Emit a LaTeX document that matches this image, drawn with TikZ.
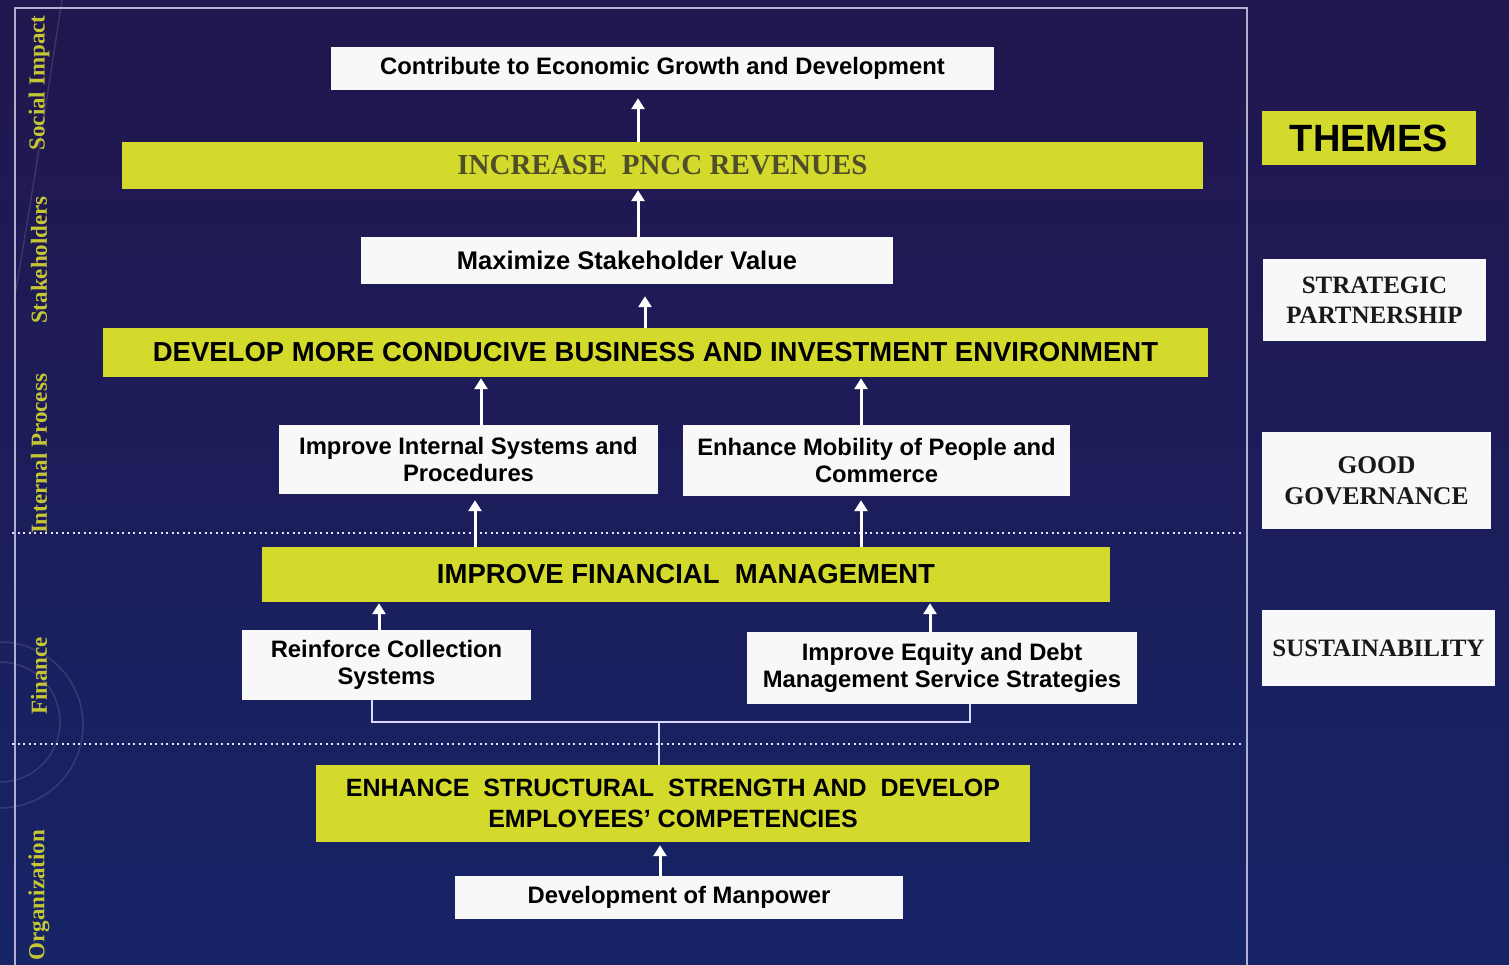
\documentclass[tikz,border=0pt]{standalone}
\usepackage{fontspec}
\setmainfont{Liberation Serif}
\setsansfont{Liberation Sans}
\usetikzlibrary{arrows.meta,calc}
\definecolor{baryellow}{RGB}{212,218,44}
\definecolor{labyellow}{RGB}{196,198,52}
\definecolor{bgtop}{RGB}{34,22,78}
\definecolor{bgbot}{RGB}{22,36,102}
\definecolor{framecol}{RGB}{178,176,210}
\definecolor{olivetext}{RGB}{78,78,40}
\definecolor{boxwhite}{RGB}{248,248,248}
\tikzset{
  whitebox/.style={fill=boxwhite, inner sep=0pt, align=center, text=black,
    font=\sffamily\bfseries\fontsize{23.8}{27}\selectfont},
  ybar/.style={fill=baryellow, inner sep=0pt, align=center, text=black,
    font=\sffamily\bfseries\fontsize{27.5}{31}\selectfont},
  themebox/.style={fill=boxwhite, inner sep=0pt, align=center, text=black!90,
    font=\rmfamily\bfseries\fontsize{25}{31}\selectfont},
  sidelab/.style={rotate=90, text=labyellow, inner sep=0pt,
    font=\rmfamily\bfseries\fontsize{23}{24}\selectfont},
  upar/.style={draw=white, line width=3pt, -{Triangle[width=13pt,length=11pt]}},
  framel/.style={draw=framecol, line width=1.4pt},
  dotl/.style={draw=white!90!blue, line width=2pt, dash pattern=on 2pt off 3.5pt},
  brk/.style={draw=white!85!blue, line width=2.2pt},
  deco/.style={draw=white, opacity=0.12, line width=1.5pt}
}
\begin{document}
\begin{tikzpicture}[x=1pt,y=-1pt]
\useasboundingbox (0,0) rectangle (1509,965);
\shade[top color=bgtop, bottom color=bgbot] (0,0) rectangle (1509,965);
% faint decorative arcs
\draw[deco] (62,0) .. controls (45,110) and (30,210) .. (14,300);
\draw[deco] (0,642) arc[start angle=-90, end angle=90, radius=83];
\draw[deco] (0,662) arc[start angle=-90, end angle=90, radius=60];
% frame
\draw[framel] (15,965) -- (15,8) -- (1247,8) -- (1247,965);
% section dividers
\draw[dotl] (12,533) -- (1243,533);
\draw[dotl] (12,744) -- (1243,744);
% left perspective labels
\node[sidelab] (lsoc) at (39,83) {Social Impact};
\node[sidelab] (lsta) at (39,260) {Stakeholders};
\node[sidelab] (lint) at (39,454) {Internal Process};
\node[sidelab] (lfin) at (39,676) {Finance};
\node[sidelab] (lorg) at (39,895) {Organization};
% main boxes
\node[whitebox, minimum width=663, minimum height=43] (econ) at (662.5,68.5) {Contribute to Economic Growth and Development};
\node[ybar, minimum width=1081, minimum height=47, text=olivetext,
      font=\rmfamily\bfseries\fontsize{29}{30}\selectfont] (rev) at (662.5,165.5) {INCREASE\ \ PNCC REVENUES};
\node[whitebox, minimum width=532, minimum height=47, font=\sffamily\bfseries\fontsize{25.5}{27}\selectfont] (stake) at (627,260.5) {Maximize Stakeholder Value};
\node[ybar, minimum width=1105, minimum height=49] (env) at (655.5,352.5) {DEVELOP MORE CONDUCIVE BUSINESS AND INVESTMENT ENVIRONMENT};
\node[whitebox, minimum width=379, minimum height=69] (intsys) at (468.5,459.5) {Improve Internal Systems and\\Procedures};
\node[whitebox, minimum width=387, minimum height=71] (mob) at (876.5,460.5) {Enhance Mobility of People and\\Commerce};
\node[ybar, minimum width=848, minimum height=55] (fin) at (686,574.5) {IMPROVE FINANCIAL\ \ MANAGEMENT};
\node[whitebox, minimum width=289, minimum height=70] (coll) at (386.5,665) {Reinforce Collection\\Systems};
\node[whitebox, minimum width=390, minimum height=72] (equity) at (942,668) {Improve Equity and Debt\\Management Service Strategies};
\node[ybar, minimum width=714, minimum height=77, font=\sffamily\bfseries\fontsize{25}{31}\selectfont] (struct) at (673,803.5) {ENHANCE\ \ STRUCTURAL\ \ STRENGTH AND\ \ DEVELOP\\EMPLOYEES' COMPETENCIES};
\node[whitebox, minimum width=448, minimum height=43] (man) at (679,897.5) {Development of Manpower};
% themes
\node[ybar, minimum width=214, minimum height=54, font=\sffamily\bfseries\fontsize{38}{40}\selectfont] (themes) at (1369,138) {THEMES};
\node[themebox, minimum width=223, minimum height=82, font=\rmfamily\bfseries\fontsize{25}{30}\selectfont] (tsp) at (1374.5,300) {STRATEGIC\\PARTNERSHIP};
\node[themebox, minimum width=229, minimum height=97, font=\rmfamily\bfseries\fontsize{25.5}{31}\selectfont] (tgg) at (1376.5,480.5) {GOOD\\GOVERNANCE};
\node[themebox, minimum width=233, minimum height=76] (tsu) at (1378.5,648) {SUSTAINABILITY};
% arrow x positions
\coordinate (a1) at (638,0);
\coordinate (a2) at (645,0);
\coordinate (a3) at (481,0);
\coordinate (a4) at (861,0);
\coordinate (a5) at (475,0);
\coordinate (a6) at (379,0);
\coordinate (a7) at (930,0);
\coordinate (a8) at (660,0);
% arrows
\draw[upar] (a1 |- rev.north) -- ($(a1 |- econ.south)+(0,8)$);
\draw[upar] (a1 |- stake.north) -- ($(a1 |- rev.south)+(0,1)$);
\draw[upar] (a2 |- env.north) -- ($(a2 |- stake.south)+(0,12)$);
\draw[upar] (a3 |- intsys.north) -- ($(a3 |- env.south)+(0,1)$);
\draw[upar] (a4 |- mob.north) -- ($(a4 |- env.south)+(0,1)$);
\draw[upar] (a5 |- fin.north) -- ($(a5 |- intsys.south)+(0,6)$);
\draw[upar] (a4 |- fin.north) -- ($(a4 |- mob.south)+(0,4)$);
\draw[upar] (a6 |- coll.north) -- ($(a6 |- fin.south)+(0,1)$);
\draw[upar] (a7 |- equity.north) -- ($(a7 |- fin.south)+(0,1)$);
\draw[upar] (a8 |- man.north) -- ($(a8 |- struct.south)+(0,3)$);
% bracket
\coordinate (bl) at (372,722);
\coordinate (br) at (970,722);
\coordinate (bm) at (659,722);
\draw[brk] (coll.south -| bl) -- (bl) -- (br) -- (equity.south -| br);
\draw[brk] (bm) -- (bm |- struct.north);
\end{tikzpicture}
\end{document}
